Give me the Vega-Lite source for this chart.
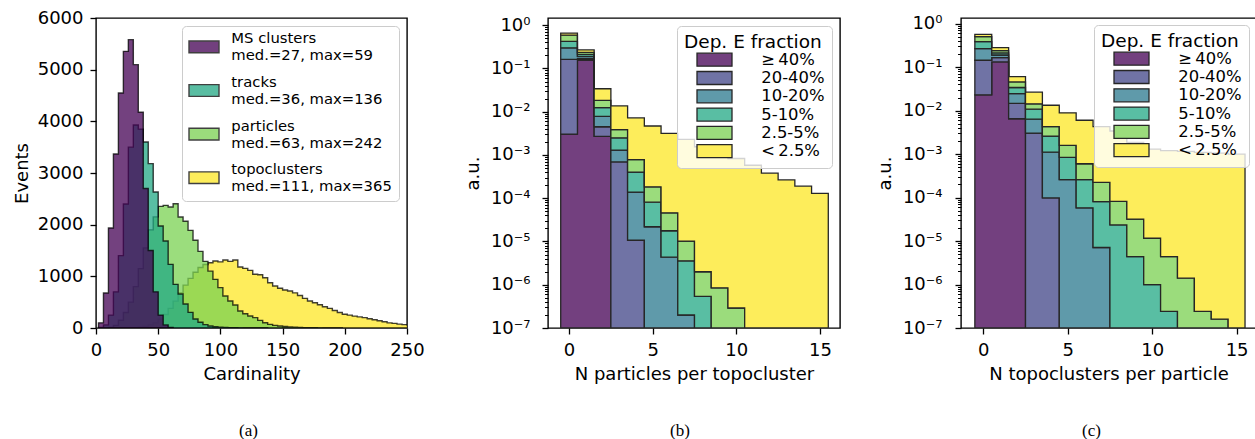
{
  "$schema": "https://vega.github.io/schema/vega-lite/v6.json",
  "padding": {"left": 12, "top": 8, "right": 0, "bottom": 0},
  "spacing": 141,
  "bounds": "flush",
  "resolve": {"scale": {"color": "independent"}, "legend": {"color": "independent"}},
  "config": {
    "font": "DejaVu Sans",
    "view": {"stroke": "black", "strokeWidth": 1.4},
    "axis": {"domain": false, "grid": false, "tickColor": "black", "tickWidth": 1.3, "tickSize": 6, "labelFont": "DejaVu Sans", "labelFontSize": 18, "labelColor": "black", "labelPadding": 7, "labelFlush": false, "labelOverlap": false, "labelAngle": 0, "titleFont": "DejaVu Sans", "titleFontSize": 18, "titleFontWeight": "normal", "titleColor": "black"},
    "title": {"font": "Liberation Serif", "fontSize": 17, "fontWeight": "normal", "color": "black"},
    "legend": {"labelFont": "DejaVu Sans", "titleFont": "DejaVu Sans", "titleFontWeight": "normal", "labelColor": "black", "titleColor": "black", "strokeColor": "#cccccc", "fillColor": "rgba(255,255,255,0.8)", "cornerRadius": 4, "labelLimit": 400}
  },
  "hconcat": [
    {
      "width": 311,
      "height": 310,
      "title": {"text": "(a)", "orient": "bottom", "anchor": "middle", "frame": "group", "offset": 40, "dx": -3},
      "data": {"values": [
        {"s":"topoclusters","x":30,"n":5},{"s":"topoclusters","x":34,"n":15},{"s":"topoclusters","x":38,"n":30},{"s":"topoclusters","x":42,"n":60},{"s":"topoclusters","x":46,"n":100},{"s":"topoclusters","x":50,"n":170},{"s":"topoclusters","x":54,"n":260},{"s":"topoclusters","x":58,"n":380},{"s":"topoclusters","x":62,"n":520},{"s":"topoclusters","x":66,"n":680},{"s":"topoclusters","x":70,"n":830},{"s":"topoclusters","x":74,"n":960},{"s":"topoclusters","x":78,"n":1080},{"s":"topoclusters","x":82,"n":1170},{"s":"topoclusters","x":86,"n":1230},{"s":"topoclusters","x":90,"n":1264},{"s":"topoclusters","x":94,"n":1297},{"s":"topoclusters","x":98,"n":1280},{"s":"topoclusters","x":102,"n":1316},{"s":"topoclusters","x":106,"n":1290},{"s":"topoclusters","x":110,"n":1316},{"s":"topoclusters","x":114,"n":1181},{"s":"topoclusters","x":118,"n":1155},{"s":"topoclusters","x":122,"n":1116},{"s":"topoclusters","x":126,"n":1039},{"s":"topoclusters","x":130,"n":1030},{"s":"topoclusters","x":134,"n":974},{"s":"topoclusters","x":138,"n":877},{"s":"topoclusters","x":142,"n":813},{"s":"topoclusters","x":146,"n":768},{"s":"topoclusters","x":150,"n":735},{"s":"topoclusters","x":154,"n":716},{"s":"topoclusters","x":158,"n":680},{"s":"topoclusters","x":162,"n":630},{"s":"topoclusters","x":166,"n":574},{"s":"topoclusters","x":170,"n":523},{"s":"topoclusters","x":174,"n":490},{"s":"topoclusters","x":178,"n":450},{"s":"topoclusters","x":182,"n":410},{"s":"topoclusters","x":186,"n":380},{"s":"topoclusters","x":190,"n":340},{"s":"topoclusters","x":194,"n":300},{"s":"topoclusters","x":198,"n":265},{"s":"topoclusters","x":202,"n":250},{"s":"topoclusters","x":206,"n":230},{"s":"topoclusters","x":210,"n":215},{"s":"topoclusters","x":214,"n":200},{"s":"topoclusters","x":218,"n":180},{"s":"topoclusters","x":222,"n":160},{"s":"topoclusters","x":226,"n":140},{"s":"topoclusters","x":230,"n":120},{"s":"topoclusters","x":234,"n":100},{"s":"topoclusters","x":238,"n":90},{"s":"topoclusters","x":242,"n":75},{"s":"topoclusters","x":246,"n":65},{"s":"topoclusters","x":250,"n":55},{"s":"topoclusters","x":254,"n":0},
        {"s":"particles","x":10,"n":10},{"s":"particles","x":14,"n":50},{"s":"particles","x":18,"n":150},{"s":"particles","x":22,"n":300},{"s":"particles","x":26,"n":500},{"s":"particles","x":30,"n":800},{"s":"particles","x":34,"n":1150},{"s":"particles","x":38,"n":1550},{"s":"particles","x":42,"n":1900},{"s":"particles","x":46,"n":2150},{"s":"particles","x":50,"n":2355},{"s":"particles","x":54,"n":2374},{"s":"particles","x":58,"n":2342},{"s":"particles","x":62,"n":2406},{"s":"particles","x":66,"n":2148},{"s":"particles","x":70,"n":2065},{"s":"particles","x":74,"n":1890},{"s":"particles","x":78,"n":1697},{"s":"particles","x":82,"n":1484},{"s":"particles","x":86,"n":1290},{"s":"particles","x":90,"n":1100},{"s":"particles","x":94,"n":942},{"s":"particles","x":98,"n":781},{"s":"particles","x":102,"n":619},{"s":"particles","x":106,"n":523},{"s":"particles","x":110,"n":445},{"s":"particles","x":114,"n":329},{"s":"particles","x":118,"n":277},{"s":"particles","x":122,"n":232},{"s":"particles","x":126,"n":200},{"s":"particles","x":130,"n":148},{"s":"particles","x":134,"n":103},{"s":"particles","x":138,"n":71},{"s":"particles","x":142,"n":50},{"s":"particles","x":146,"n":39},{"s":"particles","x":150,"n":28},{"s":"particles","x":154,"n":20},{"s":"particles","x":158,"n":14},{"s":"particles","x":162,"n":10},{"s":"particles","x":166,"n":7},{"s":"particles","x":170,"n":5},{"s":"particles","x":174,"n":4},{"s":"particles","x":178,"n":3},{"s":"particles","x":182,"n":2},{"s":"particles","x":186,"n":2},{"s":"particles","x":190,"n":1},{"s":"particles","x":194,"n":1},{"s":"particles","x":198,"n":0},
        {"s":"tracks","x":2,"n":10},{"s":"tracks","x":6,"n":60},{"s":"tracks","x":10,"n":250},{"s":"tracks","x":14,"n":700},{"s":"tracks","x":18,"n":1400},{"s":"tracks","x":22,"n":2400},{"s":"tracks","x":26,"n":3500},{"s":"tracks","x":30,"n":3930},{"s":"tracks","x":34,"n":3850},{"s":"tracks","x":38,"n":3600},{"s":"tracks","x":42,"n":3181},{"s":"tracks","x":46,"n":2632},{"s":"tracks","x":50,"n":1974},{"s":"tracks","x":54,"n":1684},{"s":"tracks","x":58,"n":1232},{"s":"tracks","x":62,"n":845},{"s":"tracks","x":66,"n":658},{"s":"tracks","x":70,"n":465},{"s":"tracks","x":74,"n":303},{"s":"tracks","x":78,"n":174},{"s":"tracks","x":82,"n":110},{"s":"tracks","x":86,"n":65},{"s":"tracks","x":90,"n":40},{"s":"tracks","x":94,"n":25},{"s":"tracks","x":98,"n":15},{"s":"tracks","x":102,"n":10},{"s":"tracks","x":106,"n":6},{"s":"tracks","x":110,"n":4},{"s":"tracks","x":114,"n":3},{"s":"tracks","x":118,"n":2},{"s":"tracks","x":122,"n":1},{"s":"tracks","x":126,"n":1},{"s":"tracks","x":130,"n":1},{"s":"tracks","x":134,"n":1},{"s":"tracks","x":138,"n":0},
        {"s":"MS clusters","x":2,"n":100},{"s":"MS clusters","x":6,"n":677},{"s":"MS clusters","x":10,"n":1935},{"s":"MS clusters","x":14,"n":3368},{"s":"MS clusters","x":18,"n":4548},{"s":"MS clusters","x":22,"n":5355},{"s":"MS clusters","x":26,"n":5581},{"s":"MS clusters","x":30,"n":5097},{"s":"MS clusters","x":34,"n":4175},{"s":"MS clusters","x":38,"n":2700},{"s":"MS clusters","x":42,"n":1500},{"s":"MS clusters","x":46,"n":700},{"s":"MS clusters","x":50,"n":250},{"s":"MS clusters","x":54,"n":60},{"s":"MS clusters","x":58,"n":10},{"s":"MS clusters","x":62,"n":0}
      ]},
      "mark": {"type": "area", "interpolate": "step-after", "fillOpacity": 0.75, "stroke": "black", "strokeOpacity": 0.75, "strokeWidth": 1.4, "clip": true},
      "encoding": {
        "x": {"field": "x", "type": "quantitative", "scale": {"domain": [0, 250], "nice": false, "zero": false}, "axis": {"values": [0, 50, 100, 150, 200, 250], "title": "Cardinality", "titlePadding": 6}},
        "y": {"field": "n", "type": "quantitative", "stack": null, "scale": {"domain": [0, 6000], "nice": false}, "axis": {"values": [0, 1000, 2000, 3000, 4000, 5000, 6000], "format": "d", "title": "Events", "titlePadding": 6}},
        "color": {"field": "s", "type": "nominal",
          "scale": {"domain": ["MS clusters", "tracks", "particles", "topoclusters"], "range": ["#440154", "#22a884", "#7ad151", "#fde725"]},
          "legend": {"orient": "top-right", "offset": 8, "title": null, "padding": 7,
            "labelExpr": "[datum.label, datum.label == 'MS clusters' ? 'med.=27, max=59' : datum.label == 'tracks' ? 'med.=36, max=136' : datum.label == 'particles' ? 'med.=63, max=242' : 'med.=111, max=365']",
            "labelFontSize": 14.8, "symbolType": "M-2.5,-0.975H2.5V0.975H-2.5Z", "symbolSize": 144, "symbolStrokeColor": "black", "symbolStrokeWidth": 1.4, "symbolOpacity": 0.75, "symbolOffset": 7.6, "labelOffset": 19.9, "rowPadding": 10.6,
            "encode": {"labels": {"update": {"lineHeight": {"value": 17}, "dy": {"value": -1}}}, "symbols": {"update": {"y": {"value": 13.9}}}}}
        }
      }
    },
    {
      "resolve": {"scale": {"color": "independent"}, "legend": {"color": "independent"}},
      "hconcat": [
        {
          "width": 292,
          "height": 310,
          "title": {"text": "(b)", "orient": "bottom", "anchor": "middle", "frame": "group", "offset": 40, "dx": -14},
          "data": {"values": [
            {"c":"≥40%","x":-0.5,"lo":1e-9,"hi":3.05e-3},{"c":"≥40%","x":0.5,"lo":1e-9,"hi":0.157},{"c":"≥40%","x":1.5,"lo":1e-9,"hi":2.7e-3},{"c":"≥40%","x":2.5,"lo":1e-9,"hi":2.7e-3},
            {"c":"20-40%","x":-0.5,"lo":3.05e-3,"hi":0.163},{"c":"20-40%","x":0.5,"lo":0.157,"hi":0.17},{"c":"20-40%","x":1.5,"lo":2.7e-3,"hi":4.5e-3},{"c":"20-40%","x":2.5,"lo":1e-9,"hi":6.9e-4},{"c":"20-40%","x":3.5,"lo":1e-9,"hi":1.07e-5},{"c":"20-40%","x":4.5,"lo":1e-9,"hi":1.07e-5},
            {"c":"10-20%","x":-0.5,"lo":0.163,"hi":0.30},{"c":"10-20%","x":0.5,"lo":0.17,"hi":0.19},{"c":"10-20%","x":1.5,"lo":4.5e-3,"hi":7.8e-3},{"c":"10-20%","x":2.5,"lo":6.9e-4,"hi":1.3e-3},{"c":"10-20%","x":3.5,"lo":1.07e-5,"hi":1.39e-4},{"c":"10-20%","x":4.5,"lo":1e-9,"hi":2.19e-5},{"c":"10-20%","x":5.5,"lo":1e-9,"hi":4.34e-6},{"c":"10-20%","x":6.5,"lo":1e-9,"hi":2.0e-7},{"c":"10-20%","x":7.5,"lo":1e-9,"hi":2.0e-7},
            {"c":"5-10%","x":-0.5,"lo":0.30,"hi":0.425},{"c":"5-10%","x":0.5,"lo":0.19,"hi":0.213},{"c":"5-10%","x":1.5,"lo":7.8e-3,"hi":0.0124},{"c":"5-10%","x":2.5,"lo":1.3e-3,"hi":2.5e-3},{"c":"5-10%","x":3.5,"lo":1.39e-4,"hi":4.03e-4},{"c":"5-10%","x":4.5,"lo":2.19e-5,"hi":8.1e-5},{"c":"5-10%","x":5.5,"lo":4.34e-6,"hi":1.77e-5},{"c":"5-10%","x":6.5,"lo":2.0e-7,"hi":3.57e-6},{"c":"5-10%","x":7.5,"lo":1e-9,"hi":5.4e-7},{"c":"5-10%","x":8.5,"lo":1e-9,"hi":5.4e-7},
            {"c":"2.5-5%","x":-0.5,"lo":0.425,"hi":0.59},{"c":"2.5-5%","x":0.5,"lo":0.213,"hi":0.237},{"c":"2.5-5%","x":1.5,"lo":0.0124,"hi":0.0184},{"c":"2.5-5%","x":2.5,"lo":2.5e-3,"hi":3.85e-3},{"c":"2.5-5%","x":3.5,"lo":4.03e-4,"hi":7.8e-4},{"c":"2.5-5%","x":4.5,"lo":8.1e-5,"hi":1.84e-4},{"c":"2.5-5%","x":5.5,"lo":1.77e-5,"hi":4.6e-5},{"c":"2.5-5%","x":6.5,"lo":3.57e-6,"hi":1.02e-5},{"c":"2.5-5%","x":7.5,"lo":5.4e-7,"hi":2.0e-6},{"c":"2.5-5%","x":8.5,"lo":1e-9,"hi":8.5e-7},{"c":"2.5-5%","x":9.5,"lo":1e-9,"hi":2.9e-7},{"c":"2.5-5%","x":10.5,"lo":1e-9,"hi":2.9e-7},
            {"c":"<2.5%","x":-0.5,"lo":0.59,"hi":0.655},{"c":"<2.5%","x":0.5,"lo":0.237,"hi":0.268},{"c":"<2.5%","x":1.5,"lo":0.0184,"hi":0.034},{"c":"<2.5%","x":2.5,"lo":3.85e-3,"hi":0.0136},{"c":"<2.5%","x":3.5,"lo":7.8e-4,"hi":7.2e-3},{"c":"<2.5%","x":4.5,"lo":1.84e-4,"hi":4.68e-3},{"c":"<2.5%","x":5.5,"lo":4.6e-5,"hi":3.16e-3},{"c":"<2.5%","x":6.5,"lo":1.02e-5,"hi":2.3e-3},{"c":"<2.5%","x":7.5,"lo":2.0e-6,"hi":1.55e-3},{"c":"<2.5%","x":8.5,"lo":8.5e-7,"hi":1.05e-3},{"c":"<2.5%","x":9.5,"lo":2.9e-7,"hi":8.3e-4},{"c":"<2.5%","x":10.5,"lo":1e-9,"hi":5.8e-4},{"c":"<2.5%","x":11.5,"lo":1e-9,"hi":3.8e-4},{"c":"<2.5%","x":12.5,"lo":1e-9,"hi":2.65e-4},{"c":"<2.5%","x":13.5,"lo":1e-9,"hi":1.9e-4},{"c":"<2.5%","x":14.5,"lo":1e-9,"hi":1.3e-4},{"c":"<2.5%","x":15.5,"lo":1e-9,"hi":1.3e-4}
          ]},
          "mark": {"type": "area", "interpolate": "step-after", "stroke": "#262626", "strokeWidth": 1.3, "clip": true},
          "encoding": {
            "x": {"field": "x", "type": "quantitative", "scale": {"domain": [-1.26, 16.2], "nice": false, "zero": false}, "axis": {"values": [0, 5, 10, 15], "title": "N particles per topocluster", "titlePadding": 6}},
            "y": {"field": "hi", "type": "quantitative", "scale": {"type": "log", "domain": [1e-7, 1.47], "nice": false, "clamp": true},
              "axis": {"title": "a.u.", "titlePadding": 8, "labelPadding": 12,
                "values": [1e-7,2e-7,3e-7,4e-7,5e-7,6e-7,7e-7,8e-7,9e-7,1e-6,2e-6,3e-6,4e-6,5e-6,6e-6,7e-6,8e-6,9e-6,1e-5,2e-5,3e-5,4e-5,5e-5,6e-5,7e-5,8e-5,9e-5,1e-4,2e-4,3e-4,4e-4,5e-4,6e-4,7e-4,8e-4,9e-4,1e-3,2e-3,3e-3,4e-3,5e-3,6e-3,7e-3,8e-3,9e-3,0.01,0.02,0.03,0.04,0.05,0.06,0.07,0.08,0.09,0.1,0.2,0.3,0.4,0.5,0.6,0.7,0.8,0.9,1],
                "labelExpr": "abs(log(datum.value)/LN10 - round(log(datum.value)/LN10)) > 0.01 ? '' : '10' + ['⁰','⁻¹','⁻²','⁻³','⁻⁴','⁻⁵','⁻⁶','⁻⁷'][abs(round(log(datum.value)/LN10))]",
                "tickSize": {"condition": {"test": "abs(log(datum.value)/LN10 - round(log(datum.value)/LN10)) > 0.01", "value": 3.5}, "value": 6},
                "tickWidth": {"condition": {"test": "abs(log(datum.value)/LN10 - round(log(datum.value)/LN10)) > 0.01", "value": 1}, "value": 1.3}}},
            "y2": {"field": "lo"},
            "color": {"field": "c", "type": "nominal",
              "scale": {"domain": ["≥40%", "20-40%", "10-20%", "5-10%", "2.5-5%", "<2.5%"], "range": ["#73407f", "#7073a5", "#5f9aaa", "#59bea3", "#9bdc7c", "#fded5b"]},
              "legend": {"orient": "top-right", "offset": 8, "title": "Dep. E fraction", "titleFontSize": 18.5, "titlePadding": 0, "padding": 7,
                "labelExpr": "datum.label == '≥40%' ? '≥\u200940%' : datum.label == '<2.5%' ? '\u2009<\u20092.5%' : datum.label",
                "labelFontSize": 16.4, "symbolType": "M-2.5,-0.93H2.5V0.93H-2.5Z", "symbolSize": 196, "symbolStrokeColor": "#262626", "symbolStrokeWidth": 1.3, "symbolOffset": 22.3, "labelOffset": 38.6, "rowPadding": -0.7}
            }
          }
        },
        {
          "width": 295,
          "height": 310,
          "title": {"text": "(c)", "orient": "bottom", "anchor": "middle", "frame": "group", "offset": 40, "dx": -17},
          "data": {"values": [
            {"c":"≥40%","x":-0.5,"lo":1e-9,"hi":0.0231},{"c":"≥40%","x":0.5,"lo":1e-9,"hi":0.132},{"c":"≥40%","x":1.5,"lo":1e-9,"hi":6.5e-3},{"c":"≥40%","x":2.5,"lo":1e-9,"hi":6.5e-3},
            {"c":"20-40%","x":-0.5,"lo":0.0231,"hi":0.144},{"c":"20-40%","x":0.5,"lo":0.132,"hi":0.166},{"c":"20-40%","x":1.5,"lo":6.5e-3,"hi":0.0146},{"c":"20-40%","x":2.5,"lo":1e-9,"hi":3.04e-3},{"c":"20-40%","x":3.5,"lo":1e-9,"hi":9.8e-5},{"c":"20-40%","x":4.5,"lo":1e-9,"hi":9.8e-5},
            {"c":"10-20%","x":-0.5,"lo":0.144,"hi":0.267},{"c":"10-20%","x":0.5,"lo":0.166,"hi":0.19},{"c":"10-20%","x":1.5,"lo":0.0146,"hi":0.0247},{"c":"10-20%","x":2.5,"lo":3.04e-3,"hi":6.37e-3},{"c":"10-20%","x":3.5,"lo":9.8e-5,"hi":1.11e-3},{"c":"10-20%","x":4.5,"lo":1e-9,"hi":2.58e-4},{"c":"10-20%","x":5.5,"lo":1e-9,"hi":5.8e-5},{"c":"10-20%","x":6.5,"lo":1e-9,"hi":7.1e-6},{"c":"10-20%","x":7.5,"lo":1e-9,"hi":7.1e-6},
            {"c":"5-10%","x":-0.5,"lo":0.267,"hi":0.386},{"c":"5-10%","x":0.5,"lo":0.19,"hi":0.212},{"c":"5-10%","x":1.5,"lo":0.0247,"hi":0.034},{"c":"5-10%","x":2.5,"lo":6.37e-3,"hi":0.0108},{"c":"5-10%","x":3.5,"lo":1.11e-3,"hi":2.6e-3},{"c":"5-10%","x":4.5,"lo":2.58e-4,"hi":8.4e-4},{"c":"5-10%","x":5.5,"lo":5.8e-5,"hi":2.58e-4},{"c":"5-10%","x":6.5,"lo":7.1e-6,"hi":8.1e-5},{"c":"5-10%","x":7.5,"lo":1e-9,"hi":2.35e-5},{"c":"5-10%","x":8.5,"lo":1e-9,"hi":4.4e-6},{"c":"5-10%","x":9.5,"lo":1e-9,"hi":9.9e-7},{"c":"5-10%","x":10.5,"lo":1e-9,"hi":2.4e-7},{"c":"5-10%","x":11.5,"lo":1e-9,"hi":2.4e-7},
            {"c":"2.5-5%","x":-0.5,"lo":0.386,"hi":0.503},{"c":"2.5-5%","x":0.5,"lo":0.212,"hi":0.24},{"c":"2.5-5%","x":1.5,"lo":0.034,"hi":0.0458},{"c":"2.5-5%","x":2.5,"lo":0.0108,"hi":0.0143},{"c":"2.5-5%","x":3.5,"lo":2.6e-3,"hi":4.3e-3},{"c":"2.5-5%","x":4.5,"lo":8.4e-4,"hi":1.58e-3},{"c":"2.5-5%","x":5.5,"lo":2.58e-4,"hi":6.0e-4},{"c":"2.5-5%","x":6.5,"lo":8.1e-5,"hi":2.24e-4},{"c":"2.5-5%","x":7.5,"lo":2.35e-5,"hi":8.2e-5},{"c":"2.5-5%","x":8.5,"lo":4.4e-6,"hi":3.2e-5},{"c":"2.5-5%","x":9.5,"lo":9.9e-7,"hi":1.16e-5},{"c":"2.5-5%","x":10.5,"lo":2.4e-7,"hi":4.4e-6},{"c":"2.5-5%","x":11.5,"lo":1e-9,"hi":1.4e-6},{"c":"2.5-5%","x":12.5,"lo":1e-9,"hi":2.4e-7},{"c":"2.5-5%","x":13.5,"lo":1e-9,"hi":1.6e-7},{"c":"2.5-5%","x":14.5,"lo":1e-9,"hi":1.6e-7},
            {"c":"<2.5%","x":-0.5,"lo":0.503,"hi":0.569},{"c":"<2.5%","x":0.5,"lo":0.24,"hi":0.281},{"c":"<2.5%","x":1.5,"lo":0.0458,"hi":0.0607},{"c":"<2.5%","x":2.5,"lo":0.0143,"hi":0.0265},{"c":"<2.5%","x":3.5,"lo":4.3e-3,"hi":0.0133},{"c":"<2.5%","x":4.5,"lo":1.58e-3,"hi":8.9e-3},{"c":"<2.5%","x":5.5,"lo":6.0e-4,"hi":6.0e-3},{"c":"<2.5%","x":6.5,"lo":2.24e-4,"hi":4.3e-3},{"c":"<2.5%","x":7.5,"lo":8.2e-5,"hi":3.4e-3},{"c":"<2.5%","x":8.5,"lo":3.2e-5,"hi":1.85e-3},{"c":"<2.5%","x":9.5,"lo":1.16e-5,"hi":1.3e-3},{"c":"<2.5%","x":10.5,"lo":4.4e-6,"hi":1.2e-3},{"c":"<2.5%","x":11.5,"lo":1.4e-6,"hi":1.15e-3},{"c":"<2.5%","x":12.5,"lo":2.4e-7,"hi":1.1e-3},{"c":"<2.5%","x":13.5,"lo":1.6e-7,"hi":1.05e-3},{"c":"<2.5%","x":14.5,"lo":1e-9,"hi":1.0e-3},{"c":"<2.5%","x":15.5,"lo":1e-9,"hi":1.0e-3}
          ]},
          "mark": {"type": "area", "interpolate": "step-after", "stroke": "#262626", "strokeWidth": 1.3, "clip": true},
          "encoding": {
            "x": {"field": "x", "type": "quantitative", "scale": {"domain": [-1.32, 16.15], "nice": false, "zero": false}, "axis": {"values": [0, 5, 10, 15], "title": "N topoclusters per particle", "titlePadding": 6}},
            "y": {"field": "hi", "type": "quantitative", "scale": {"type": "log", "domain": [1e-7, 1.35], "nice": false, "clamp": true},
              "axis": {"title": "a.u.", "titlePadding": 8, "labelPadding": 13,
                "values": [1e-7,2e-7,3e-7,4e-7,5e-7,6e-7,7e-7,8e-7,9e-7,1e-6,2e-6,3e-6,4e-6,5e-6,6e-6,7e-6,8e-6,9e-6,1e-5,2e-5,3e-5,4e-5,5e-5,6e-5,7e-5,8e-5,9e-5,1e-4,2e-4,3e-4,4e-4,5e-4,6e-4,7e-4,8e-4,9e-4,1e-3,2e-3,3e-3,4e-3,5e-3,6e-3,7e-3,8e-3,9e-3,0.01,0.02,0.03,0.04,0.05,0.06,0.07,0.08,0.09,0.1,0.2,0.3,0.4,0.5,0.6,0.7,0.8,0.9,1],
                "labelExpr": "abs(log(datum.value)/LN10 - round(log(datum.value)/LN10)) > 0.01 ? '' : '10' + ['⁰','⁻¹','⁻²','⁻³','⁻⁴','⁻⁵','⁻⁶','⁻⁷'][abs(round(log(datum.value)/LN10))]",
                "tickSize": {"condition": {"test": "abs(log(datum.value)/LN10 - round(log(datum.value)/LN10)) > 0.01", "value": 3.5}, "value": 6},
                "tickWidth": {"condition": {"test": "abs(log(datum.value)/LN10 - round(log(datum.value)/LN10)) > 0.01", "value": 1}, "value": 1.3}}},
            "y2": {"field": "lo"},
            "color": {"field": "c", "type": "nominal",
              "scale": {"domain": ["≥40%", "20-40%", "10-20%", "5-10%", "2.5-5%", "<2.5%"], "range": ["#73407f", "#7073a5", "#5f9aaa", "#59bea3", "#9bdc7c", "#fded5b"]},
              "legend": {"orient": "top-right", "offset": 7, "title": "Dep. E fraction", "titleFontSize": 18.5, "titlePadding": 0, "padding": 7,
                "labelExpr": "datum.label == '≥40%' ? '≥\u200940%' : datum.label == '<2.5%' ? '\u2009<\u20092.5%' : datum.label",
                "labelFontSize": 16.4, "symbolType": "M-2.5,-0.93H2.5V0.93H-2.5Z", "symbolSize": 196, "symbolStrokeColor": "#262626", "symbolStrokeWidth": 1.3, "symbolOffset": 22.3, "labelOffset": 38.6, "rowPadding": -0.7}
            }
          }
        }
      ],
      "spacing": 121,
      "bounds": "flush"
    }
  ]
}
